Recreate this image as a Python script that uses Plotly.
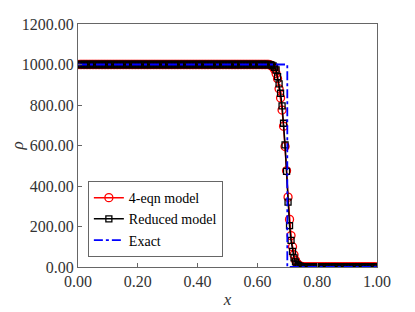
import numpy as np
import plotly.graph_objects as go

# cell centres of the 200-cell mesh on [0, 1]
n_cells = 200
x_cells = np.linspace(0.0025, 0.9975, n_cells)

# density: left plateau, interface region, right plateau
rho_4eqn_mid = [998, 994, 987, 975, 955, 930, 880, 835, 775, 695, 595,
                475, 345, 235, 155, 100, 60, 33, 18, 10, 5, 3]
rho_reduced_mid = [999, 997, 993, 986, 973, 940, 904, 858, 796, 710, 603,
                   472, 320, 204, 131, 77, 45, 25, 13, 7, 4, 2]
rho_left = 1000.0
rho_right = 1.0
n_left = 128
n_right = n_cells - n_left - len(rho_4eqn_mid)

rho_4eqn = [rho_left] * n_left + rho_4eqn_mid + [rho_right] * n_right
rho_reduced = [rho_left] * n_left + rho_reduced_mid + [rho_right] * n_right

# exact solution: contact discontinuity at x = 0.7
x_exact = [0.0, 0.7, 0.7, 1.0]
rho_exact = [1000.0, 1000.0, 1.0, 1.0]

serif = "Liberation Serif"

fig = go.Figure()
fig.add_trace(go.Scatter(
    x=x_cells, y=rho_4eqn, name="4-eqn model", mode="lines+markers",
    line=dict(color="red", width=1.5),
    marker=dict(symbol="circle-open", size=8, color="red", line=dict(width=1.3)),
))
fig.add_trace(go.Scatter(
    x=x_cells, y=rho_reduced, name="Reduced model", mode="lines+markers",
    line=dict(color="black", width=1.5),
    marker=dict(symbol="square-open", size=6, color="black", line=dict(width=1.3)),
))
fig.add_trace(go.Scatter(
    x=x_exact, y=rho_exact, name="Exact", mode="lines",
    line=dict(color="blue", width=1.8, dash="dashdot"),
))

axis_common = dict(
    showgrid=False, zeroline=False, showline=True, mirror=True,
    linecolor="#666666", linewidth=1, ticks="inside", ticklen=4,
    tickcolor="#666666", tickformat=".2f", automargin=False,
    tickfont=dict(family=serif, size=16, color="#333333"),
)

# the page body adds an 8px offset, so the figure is a little smaller
fig.update_layout(
    width=407, height=304,
    margin=dict(l=70, r=38, t=16, b=45),
    paper_bgcolor="white", plot_bgcolor="white",
    font=dict(family=serif),
    xaxis=dict(range=[0, 1], dtick=0.2,
               title=dict(text="<i>x</i>", standoff=3,
                          font=dict(family=serif, size=17, color="#333333")),
               **axis_common),
    yaxis=dict(range=[0, 1200], dtick=200,
               title=dict(text="<i>ρ</i>", standoff=9,
                          font=dict(family=serif, size=17, color="#333333")),
               **axis_common),
    legend=dict(x=0.033, y=0.041, xanchor="left", yanchor="bottom",
                bgcolor="white", bordercolor="#666666", borderwidth=1,
                font=dict(family=serif, size=14, color="black"),
                tracegroupgap=0, itemwidth=30),
    showlegend=True,
)

fig.write_html("out.html")
